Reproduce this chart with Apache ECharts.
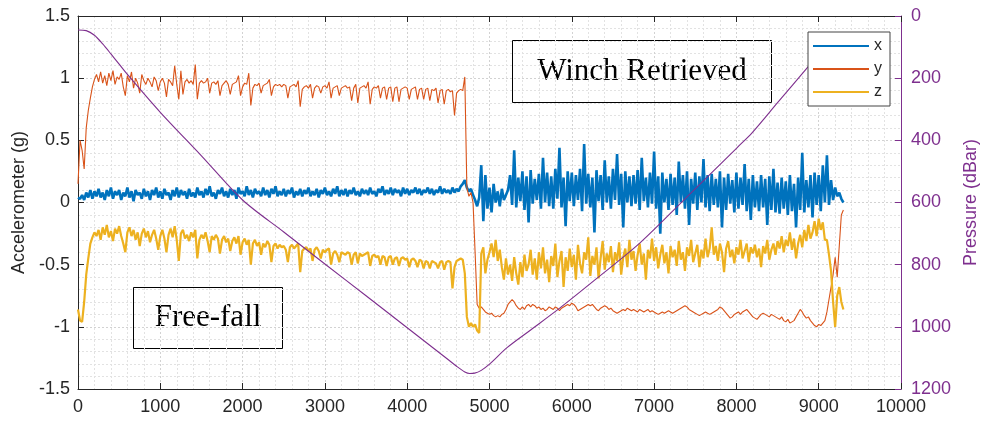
<!DOCTYPE html>
<html><head><meta charset="utf-8">
<script src="https://cdn.jsdelivr.net/npm/echarts@6/dist/echarts.min.js"></script>
<style>html,body{margin:0;padding:0;background:#fff}#c{width:984px;height:421px}</style>
</head><body><div id="c"></div>
<script>
// sample interval (s) for accelerometer series
const SAMPLE_STEP = 25;
const xTicks = [0,1000,2000,3000,4000,5000,6000,7000,8000,9000,10000];
const leftTicks = [-1.5,-1,-0.5,0,0.5,1,1.5];
const rightTicks = [0,200,400,600,800,1000,1200];
const seriesNames = ['x','y','z'];

const accX = [
0.04,0.03,0.06,0.02,0.08,0.04,0.10,0.03,0.09,0.05,
0.11,0.04,0.08,0.02,0.10,0.05,0.12,0.03,0.09,0.06,
0.10,0.02,0.08,0.05,0.12,0.04,0.09,0.01,0.10,0.06,
0.08,0.03,0.11,0.05,0.09,0.02,0.10,0.06,0.12,0.04,
0.09,0.03,0.11,0.06,0.08,0.02,0.10,0.05,0.12,0.04,
0.10,0.06,0.09,0.03,0.11,0.05,0.08,0.04,0.12,0.06,
0.09,0.04,0.11,0.06,0.13,0.05,0.08,0.03,0.10,0.07,
0.12,0.05,0.09,0.04,0.11,0.06,0.10,0.03,0.12,0.07,
0.09,0.05,0.13,0.06,0.10,0.04,0.11,0.07,0.09,0.05,
0.12,0.06,0.10,0.04,0.11,0.07,0.13,0.05,0.09,0.06,
0.11,0.05,0.10,0.07,0.12,0.04,0.09,0.06,0.11,0.05,
0.10,0.07,0.12,0.05,0.09,0.06,0.11,0.04,0.10,0.07,
0.12,0.06,0.09,0.05,0.11,0.07,0.13,0.05,0.10,0.06,
0.11,0.05,0.10,0.07,0.12,0.06,0.09,0.05,0.11,0.07,
0.10,0.06,0.12,0.07,0.09,0.05,0.11,0.08,0.13,0.06,
0.10,0.07,0.12,0.06,0.11,0.08,0.10,0.05,0.12,0.07,
0.11,0.06,0.10,0.08,0.12,0.07,0.11,0.06,0.10,0.08,
0.12,0.07,0.11,0.06,0.10,0.08,0.13,0.07,0.11,0.08,
0.10,0.07,0.12,0.08,0.11,0.09,0.13,0.15,0.18,0.12,
0.09,0.11,0.06,0.02,-0.03,0.04,0.30,-0.15,0.22,-0.05,
0.12,-0.08,0.15,0.00,0.09,-0.03,0.11,0.02,0.06,0.10,
0.22,-0.02,0.42,-0.04,0.20,0.01,0.25,-0.06,0.21,-0.16,
0.26,-0.01,0.19,0.02,0.23,-0.05,0.36,0.00,0.24,-0.03,
0.21,-0.05,0.27,0.03,0.44,-0.04,0.20,-0.19,0.25,0.01,
0.24,-0.03,0.22,0.02,0.27,-0.07,0.47,-0.01,0.23,-0.04,
0.20,-0.24,0.26,0.01,0.22,-0.06,0.34,0.00,0.21,-0.05,
0.27,0.02,0.39,-0.02,0.23,-0.20,0.25,0.00,0.21,-0.03,
0.22,-0.01,0.26,-0.06,0.36,0.01,0.20,-0.04,0.24,-0.01,
0.41,-0.05,0.21,-0.25,0.24,0.00,0.19,-0.06,0.23,-0.02,
0.20,-0.10,0.33,0.00,0.22,-0.05,0.25,-0.18,0.19,-0.01,
0.24,-0.06,0.21,0.00,0.35,-0.04,0.22,-0.07,0.23,-0.02,
0.19,-0.04,0.25,-0.20,0.20,-0.06,0.23,-0.01,0.18,-0.08,
0.24,-0.05,0.20,-0.02,0.31,-0.07,0.19,-0.14,0.22,-0.04,
0.17,-0.07,0.22,-0.04,0.19,-0.18,0.21,-0.06,0.27,-0.08,
0.16,-0.09,0.20,-0.05,0.17,-0.10,0.22,-0.07,0.15,-0.20,
0.20,-0.06,0.40,-0.08,0.18,-0.04,0.22,-0.12,0.24,-0.02,
0.22,-0.07,0.30,0.00,0.38,-0.02,0.18,0.02,0.12,0.05,
0.08,0.03,0.00];

const accY = [
0.15,0.50,0.42,0.27,0.60,0.74,0.84,0.93,0.99,1.03,
0.97,1.05,0.96,1.02,0.94,1.04,0.98,1.06,0.95,1.01,
0.99,1.04,0.93,0.86,1.02,0.97,1.05,0.92,1.00,0.96,
0.88,1.03,0.98,0.95,1.00,0.97,0.93,1.01,0.98,0.90,
0.97,1.00,0.96,0.85,0.99,0.97,0.94,1.10,0.95,0.83,
1.06,0.87,0.97,0.99,0.96,0.98,0.95,1.11,0.83,0.96,
0.98,0.96,0.97,1.00,0.88,0.96,0.97,0.95,0.98,0.86,
0.94,0.96,0.98,0.95,0.87,0.95,0.96,0.97,1.02,0.86,
0.93,0.96,0.95,1.04,0.78,0.92,0.95,0.94,0.96,0.88,
0.94,0.95,0.96,0.99,0.86,0.93,0.95,0.94,0.95,0.93,
0.95,0.94,0.84,0.93,0.94,0.95,0.93,0.98,0.77,0.91,
0.93,0.94,0.92,0.95,0.84,0.92,0.94,0.93,0.88,0.93,
0.94,0.92,0.97,0.84,0.92,0.93,0.94,0.86,0.92,0.93,
0.94,0.92,0.93,0.82,0.92,0.95,0.80,0.92,0.93,0.94,
0.92,0.97,0.79,0.91,0.93,0.92,0.94,0.84,0.92,0.93,
0.83,0.92,0.93,0.81,0.92,0.93,0.81,0.91,0.92,0.93,
0.92,0.83,0.91,0.92,0.93,0.83,0.91,0.92,0.83,0.91,
0.92,0.82,0.91,0.90,0.92,0.80,0.90,0.91,0.79,0.90,
0.91,0.89,0.90,0.70,0.88,0.90,0.91,0.90,1.01,0.12,
0.05,0.08,0.00,-0.40,-0.82,-0.85,-0.84,-0.86,-0.88,-0.89,
-0.90,-0.89,-0.91,-0.92,-0.91,-0.92,-0.90,-0.89,-0.86,-0.82,
-0.80,-0.78,-0.80,-0.83,-0.85,-0.86,-0.84,-0.86,-0.83,-0.82,
-0.84,-0.82,-0.83,-0.85,-0.84,-0.86,-0.85,-0.87,-0.86,-0.84,
-0.85,-0.86,-0.84,-0.85,-0.87,-0.85,-0.84,-0.83,-0.82,-0.83,
-0.81,-0.82,-0.84,-0.87,-0.86,-0.85,-0.84,-0.83,-0.82,-0.83,
-0.82,-0.84,-0.86,-0.87,-0.85,-0.84,-0.83,-0.84,-0.86,-0.85,
-0.87,-0.88,-0.89,-0.88,-0.87,-0.86,-0.87,-0.85,-0.86,-0.87,
-0.86,-0.87,-0.88,-0.86,-0.87,-0.88,-0.87,-0.86,-0.88,-0.87,
-0.88,-0.89,-0.90,-0.89,-0.88,-0.89,-0.88,-0.87,-0.88,-0.89,
-0.88,-0.87,-0.86,-0.85,-0.84,-0.83,-0.84,-0.86,-0.87,-0.88,
-0.89,-0.90,-0.91,-0.90,-0.89,-0.88,-0.89,-0.90,-0.89,-0.88,
-0.87,-0.86,-0.84,-0.85,-0.87,-0.89,-0.91,-0.93,-0.92,-0.90,
-0.89,-0.88,-0.90,-0.88,-0.87,-0.86,-0.88,-0.90,-0.92,-0.93,
-0.94,-0.92,-0.90,-0.89,-0.90,-0.91,-0.92,-0.90,-0.91,-0.92,
-0.93,-0.94,-0.92,-0.95,-0.96,-0.94,-0.97,-0.96,-0.95,-0.92,
-0.89,-0.86,-0.88,-0.91,-0.93,-0.92,-0.95,-0.97,-0.99,-1.00,
-0.98,-0.99,-0.97,-0.95,-0.88,-0.78,-0.68,-0.58,-0.44,-0.60,
-0.35,-0.10,-0.06];

const accZ = [
-0.86,-0.95,-0.96,-0.80,-0.58,-0.45,-0.33,-0.28,-0.24,-0.27,
-0.22,-0.30,-0.20,-0.26,-0.18,-0.28,-0.23,-0.31,-0.21,-0.25,
-0.19,-0.27,-0.33,-0.40,-0.24,-0.20,-0.27,-0.22,-0.30,-0.24,
-0.35,-0.25,-0.21,-0.28,-0.23,-0.32,-0.26,-0.22,-0.29,-0.38,
-0.27,-0.22,-0.29,-0.40,-0.26,-0.21,-0.28,-0.19,-0.30,-0.47,
-0.25,-0.22,-0.29,-0.26,-0.31,-0.24,-0.28,-0.22,-0.45,-0.30,
-0.26,-0.29,-0.24,-0.31,-0.40,-0.27,-0.30,-0.26,-0.29,-0.41,
-0.30,-0.27,-0.32,-0.29,-0.39,-0.31,-0.28,-0.33,-0.27,-0.42,
-0.32,-0.29,-0.34,-0.30,-0.50,-0.33,-0.30,-0.35,-0.32,-0.42,
-0.33,-0.36,-0.31,-0.34,-0.48,-0.35,-0.33,-0.37,-0.34,-0.36,
-0.35,-0.38,-0.48,-0.36,-0.34,-0.37,-0.35,-0.33,-0.56,-0.39,
-0.37,-0.36,-0.39,-0.37,-0.47,-0.38,-0.36,-0.39,-0.45,-0.38,
-0.40,-0.38,-0.37,-0.50,-0.41,-0.39,-0.42,-0.48,-0.40,-0.41,
-0.42,-0.40,-0.41,-0.50,-0.42,-0.40,-0.49,-0.41,-0.43,-0.42,
-0.41,-0.40,-0.51,-0.43,-0.42,-0.44,-0.43,-0.50,-0.43,-0.44,
-0.51,-0.44,-0.43,-0.50,-0.45,-0.44,-0.51,-0.45,-0.44,-0.46,
-0.45,-0.52,-0.46,-0.45,-0.47,-0.52,-0.46,-0.47,-0.53,-0.47,
-0.48,-0.53,-0.47,-0.48,-0.49,-0.53,-0.48,-0.47,-0.54,-0.48,
-0.47,-0.48,-0.69,-0.52,-0.47,-0.46,-0.45,-0.46,-0.57,-0.92,
-1.00,-0.97,-1.00,-0.98,-1.03,-1.05,-0.41,-0.36,-0.57,-0.46,
-0.40,-0.33,-0.44,-0.30,-0.47,-0.38,-0.52,-0.62,-0.45,-0.58,
-0.50,-0.63,-0.44,-0.57,-0.66,-0.48,-0.60,-0.42,-0.55,-0.50,
-0.38,-0.58,-0.45,-0.62,-0.40,-0.53,-0.36,-0.57,-0.46,-0.64,
-0.43,-0.51,-0.33,-0.60,-0.47,-0.39,-0.68,-0.44,-0.55,-0.37,
-0.52,-0.42,-0.62,-0.34,-0.49,-0.57,-0.40,-0.46,-0.28,-0.59,
-0.43,-0.50,-0.36,-0.61,-0.45,-0.31,-0.54,-0.41,-0.48,-0.35,
-0.56,-0.40,-0.47,-0.32,-0.58,-0.44,-0.37,-0.52,-0.30,-0.46,
-0.39,-0.55,-0.42,-0.33,-0.50,-0.41,-0.62,-0.38,-0.45,-0.29,
-0.47,-0.36,-0.53,-0.42,-0.34,-0.49,-0.40,-0.57,-0.35,-0.44,
-0.38,-0.51,-0.31,-0.46,-0.40,-0.55,-0.36,-0.43,-0.30,-0.48,
-0.41,-0.34,-0.52,-0.38,-0.45,-0.29,-0.44,-0.37,-0.20,-0.42,
-0.35,-0.47,-0.33,-0.40,-0.56,-0.37,-0.31,-0.44,-0.38,-0.49,
-0.36,-0.42,-0.30,-0.45,-0.39,-0.33,-0.48,-0.36,-0.41,-0.34,
-0.44,-0.37,-0.52,-0.35,-0.41,-0.30,-0.46,-0.38,-0.33,-0.42,
-0.31,-0.37,-0.27,-0.40,-0.30,-0.35,-0.24,-0.38,-0.29,-0.45,
-0.33,-0.26,-0.36,-0.22,-0.31,-0.18,-0.29,-0.24,-0.15,-0.27,
-0.13,-0.22,-0.16,-0.30,-0.30,-0.42,-0.55,-0.80,-1.00,-0.75,
-0.68,-0.80,-0.86];

const pressureTime = [0,100,200,300,400,500,600,1000,1500,2000,2500,3000,3500,4000,4500,4600,4700,4760,4820,4900,5000,5213,5500,5857,6300,6829,7400,8007,8190,8500,8870,9000,9150,9300];
const pressureVal  = [45,47,62,90,122,155,188,310,450,592,695,798,900,1003,1106,1127,1145,1150,1149,1140,1120,1067,1010,939,845,730,582,424,376,279,164,125,88,60];

const colors = {x:'#0072BD', y:'#D95319', z:'#EDB120', p:'#7E2F8E'};
const axisGray = '#262626';
const sans = '"Liberation Sans", Arial, sans-serif';
const serif = '"Liberation Serif", "Times New Roman", serif';

function pair(vals){ return vals.map((v,i)=>[i*SAMPLE_STEP, v]); }

const chart = echarts.init(document.getElementById('c'), null, {renderer:'canvas'});
const gridStyle = {color:'#d2d2d2', type:[2,2], width:1};
const minorStyle = {color:'#e2e2e2', type:[2,2], width:1};

chart.setOption({
  animation:false,
  backgroundColor:'#fff',
  grid:{left:78, right:83, top:16, bottom:32, containLabel:false, outerBoundsMode:'none'},
  legend:{
    data:seriesNames, orient:'vertical', left:808, top:32,
    icon:'rect', itemWidth:56, itemHeight:2, itemGap:7,
    padding:[6,8,6,5], backgroundColor:'#fff', borderColor:'#444', borderWidth:1,
    textStyle:{fontSize:16, color:axisGray, fontFamily:sans, lineHeight:16}
  },
  xAxis:[{
    type:'value', min:xTicks[0], max:xTicks[xTicks.length-1], interval:1000, position:'bottom',
    axisLine:{show:true, onZero:false, lineStyle:{color:axisGray}},
    axisTick:{inside:true, length:6, lineStyle:{color:axisGray}},
    axisLabel:{color:axisGray, fontSize:18, fontFamily:sans, margin:9, formatter:v=>String(v)},
    splitLine:{show:true, lineStyle:gridStyle},
    minorTick:{show:false, splitNumber:5},
    minorSplitLine:{show:true, lineStyle:minorStyle}
  },{
    type:'value', min:xTicks[0], max:xTicks[xTicks.length-1], interval:1000, position:'top',
    axisLine:{show:true, onZero:false, lineStyle:{color:axisGray}},
    axisTick:{inside:true, length:6, lineStyle:{color:axisGray}},
    axisLabel:{show:false}, splitLine:{show:false}
  }],
  yAxis:[{
    type:'value', min:leftTicks[0], max:leftTicks[leftTicks.length-1], interval:0.5, position:'left',
    name:'Accelerometer (g)', nameLocation:'middle', nameGap:37, nameRotate:90,
    nameTextStyle:{fontSize:18, color:axisGray, fontFamily:sans},
    axisLine:{show:true, onZero:false, lineStyle:{color:axisGray}},
    axisTick:{inside:true, length:6, lineStyle:{color:axisGray}},
    axisLabel:{color:axisGray, fontSize:18, fontFamily:sans, margin:8},
    splitLine:{show:true, lineStyle:gridStyle},
    minorTick:{show:false, splitNumber:5},
    minorSplitLine:{show:true, lineStyle:minorStyle}
  },{
    type:'value', min:rightTicks[0], max:rightTicks[rightTicks.length-1], interval:200, position:'right', inverse:true,
    name:'Pressure (dBar)', nameLocation:'middle', nameGap:57, nameRotate:90,
    nameTextStyle:{fontSize:18, color:colors.p, fontFamily:sans},
    axisLine:{show:true, onZero:false, lineStyle:{color:colors.p}},
    axisTick:{inside:true, length:6, lineStyle:{color:colors.p}},
    axisLabel:{color:colors.p, fontSize:18, fontFamily:sans, margin:10, formatter:v=>String(v)},
    splitLine:{show:false}
  }],
  series:[
    {name:'x', type:'line', data:pair(accX), showSymbol:false, symbol:'none', lineStyle:{color:colors.x, width:2.6}, itemStyle:{color:colors.x}, xAxisIndex:0, yAxisIndex:0},
    {name:'y', type:'line', data:pair(accY), showSymbol:false, symbol:'none', lineStyle:{color:colors.y, width:1.1}, itemStyle:{color:colors.y}, xAxisIndex:0, yAxisIndex:0},
    {name:'z', type:'line', data:pair(accZ), showSymbol:false, symbol:'none', lineStyle:{color:colors.z, width:2.2}, itemStyle:{color:colors.z}, xAxisIndex:0, yAxisIndex:0},
    {name:'Pressure', type:'line', data:pressureTime.map((t,i)=>[t, pressureVal[i]]), showSymbol:false, symbol:'none', smooth:0.3, lineStyle:{color:colors.p, width:1.1}, itemStyle:{color:colors.p}, xAxisIndex:0, yAxisIndex:1}
  ],
  graphic:[
    {type:'group', left:512, top:40, z:100, children:[
      {type:'rect', shape:{x:0.5, y:0.5, width:259, height:62}, style:{fill:'#fff', stroke:'#000', lineWidth:1}},
      {type:'text', x:130, y:32, style:{text:'Winch Retrieved', font:'31px '+serif, fill:'#000', align:'center', verticalAlign:'middle'}}
    ]},
    {type:'group', left:133, top:287, z:100, children:[
      {type:'rect', shape:{x:0.5, y:0.5, width:149, height:61}, style:{fill:'#fff', stroke:'#000', lineWidth:1}},
      {type:'text', x:75, y:31, style:{text:'Free-fall', font:'31px '+serif, fill:'#000', align:'center', verticalAlign:'middle'}}
    ]}
  ]
});
</script></body></html>
